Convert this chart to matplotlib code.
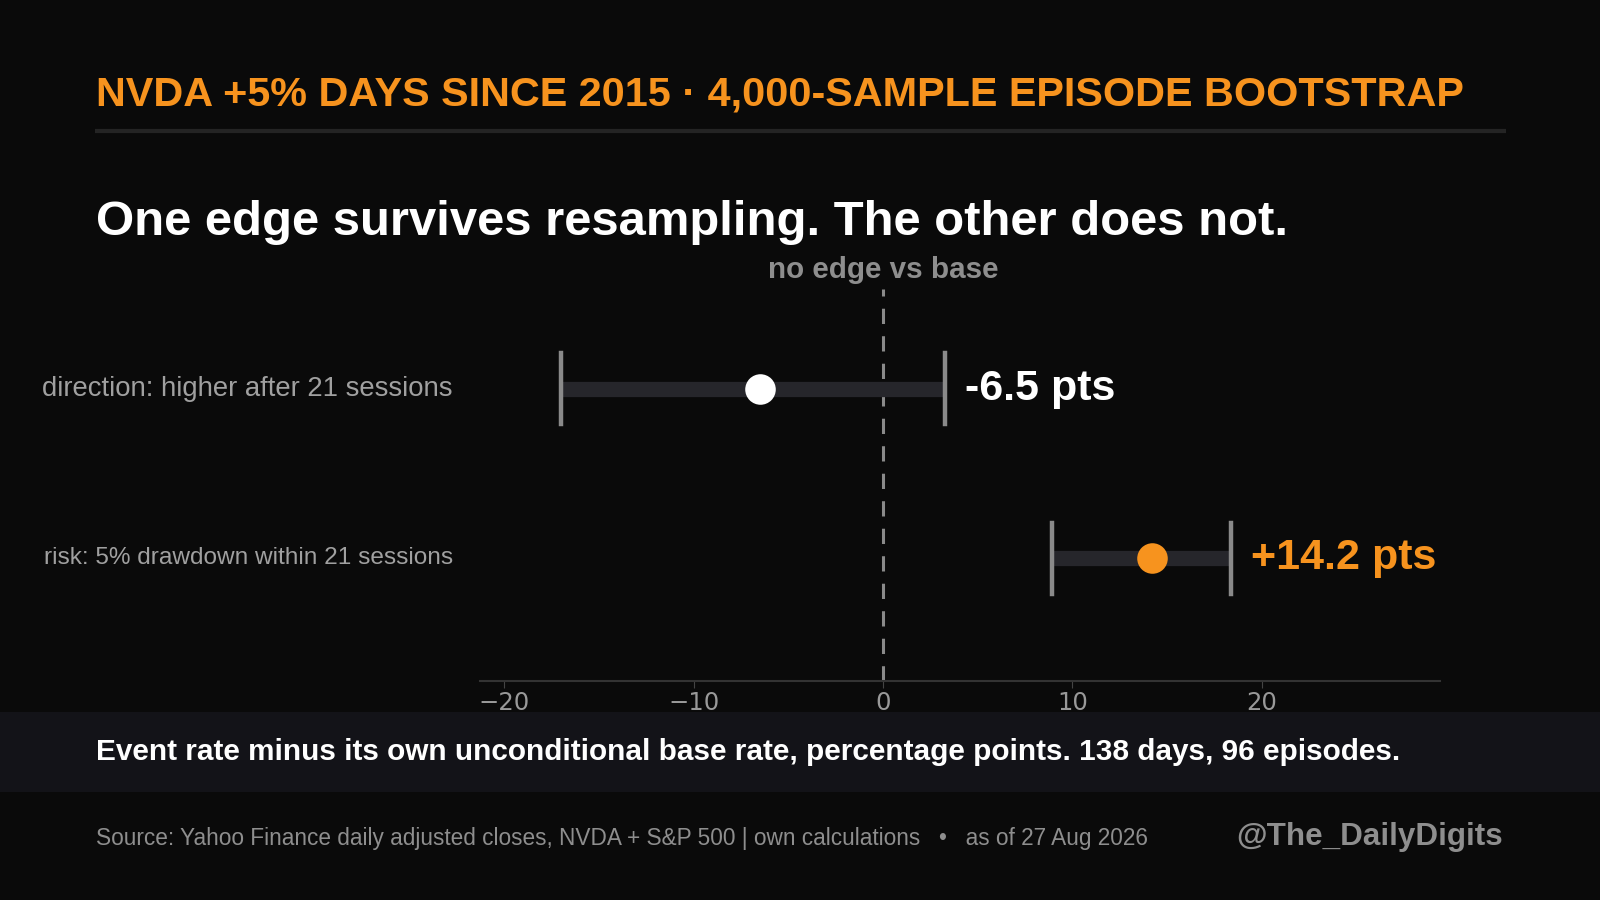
import matplotlib.pyplot as plt
from matplotlib.patches import Rectangle
from matplotlib.lines import Line2D

# data
labels = ["direction: higher after 21 sessions", "risk: 5% drawdown within 21 sessions"]
estimate = [-6.5, 14.2]
ci_low = [-17.0, 8.9]
ci_high = [3.3, 18.4]
value_text = ["-6.5 pts", "+14.2 pts"]
ticks = [-20, -10, 0, 10, 20]

BG = "#0a0a0a"
ORANGE = "#f7931e"
dot_colors = ["#ffffff", ORANGE]
text_colors = ["#ffffff", ORANGE]
label_sizes = [19.8, 17.6]

plt.rcParams["font.family"] = ["Liberation Sans", "DejaVu Sans"]

fig = plt.figure(figsize=(16, 9), dpi=100, facecolor=BG)
W, H = 1568.0, 882.0

def fx(px):
    return px / W

def fy(py):
    return 1 - py / H

ax = fig.add_axes([fx(470), fy(667), fx(1411) - fx(470), fy(283) - fy(667)])
ax.set_facecolor(BG)

for i in range(len(labels)):
    ax.plot([ci_low[i], ci_high[i]], [i, i], color="#26262b", lw=11,
            solid_capstyle="butt", zorder=2)
    for x in (ci_low[i], ci_high[i]):
        ax.plot([x, x], [i - 0.21, i + 0.21], color="#8a8a8a", lw=3.2, zorder=3)
    ax.plot(estimate[i], i, "o", color=dot_colors[i], ms=22, mec="none", zorder=4)
    ax.annotate(value_text[i], (ci_high[i], i), xytext=(14, 0),
                textcoords="offset points", ha="left", va="center",
                color=text_colors[i], fontsize=31, fontweight="bold")
    ax.text(-0.028, i, labels[i], transform=ax.get_yaxis_transform(),
            ha="right", va="center", color="#a0a0a0", fontsize=label_sizes[i])

ax.axvline(0, color="#8a8a8a", lw=2.2, ls=(0, (5, 4)), zorder=1)
ax.text(0, 1.028, "no edge vs base", transform=ax.get_xaxis_transform(),
        ha="center", va="baseline", color="#8e8e8e", fontsize=21.3, fontweight="bold")

ax.set_xlim(-21.3, 29.4)
ax.set_ylim(1.72, -0.59)
ax.set_xticks(ticks)
ax.set_xticklabels(["\u2212%d" % -t if t < 0 else str(t) for t in ticks],
                   family="DejaVu Sans")
ax.set_yticks([])
for s in ("top", "right", "left"):
    ax.spines[s].set_visible(False)
ax.spines["bottom"].set_color("#333333")
ax.spines["bottom"].set_linewidth(1.5)
ax.tick_params(axis="x", colors="#444444", labelcolor="#999999", labelsize=17.5,
               length=5, pad=2.5)

# header
fig.text(fx(94), fy(103), "NVDA +5% DAYS SINCE 2015 \u00b7 4,000-SAMPLE EPISODE BOOTSTRAP",
         color=ORANGE, fontsize=29.75, fontweight="bold", va="baseline")
fig.add_artist(Line2D([fx(93), fx(1476)], [fy(128), fy(128)], color="#242424", lw=3,
                      solid_capstyle="butt"))
fig.text(fx(94), fy(230), "One edge survives resampling. The other does not.",
         color="white", fontsize=35.3, fontweight="bold", va="baseline")

# footer band
fig.add_artist(Rectangle((0, fy(776)), 1, fy(698) - fy(776), transform=fig.transFigure,
                         facecolor="#131318", edgecolor="none", zorder=0))
fig.text(fx(94), fy(745),
         "Event rate minus its own unconditional base rate, percentage points. 138 days, 96 episodes.",
         color="white", fontsize=21.4, fontweight="bold", va="baseline")
fig.text(fx(94), fy(828),
         "Source: Yahoo Finance daily adjusted closes, NVDA + S&P 500 | own calculations   \u2022   as of 27 Aug 2026",
         color="#8e8e8e", fontsize=16.3, va="baseline")
fig.text(fx(1473), fy(828), "@The_DailyDigits", color="#8e8e8e", fontsize=22.6,
         fontweight="bold", ha="right", va="baseline")

fig.savefig("out.png", dpi=100, facecolor=BG)
